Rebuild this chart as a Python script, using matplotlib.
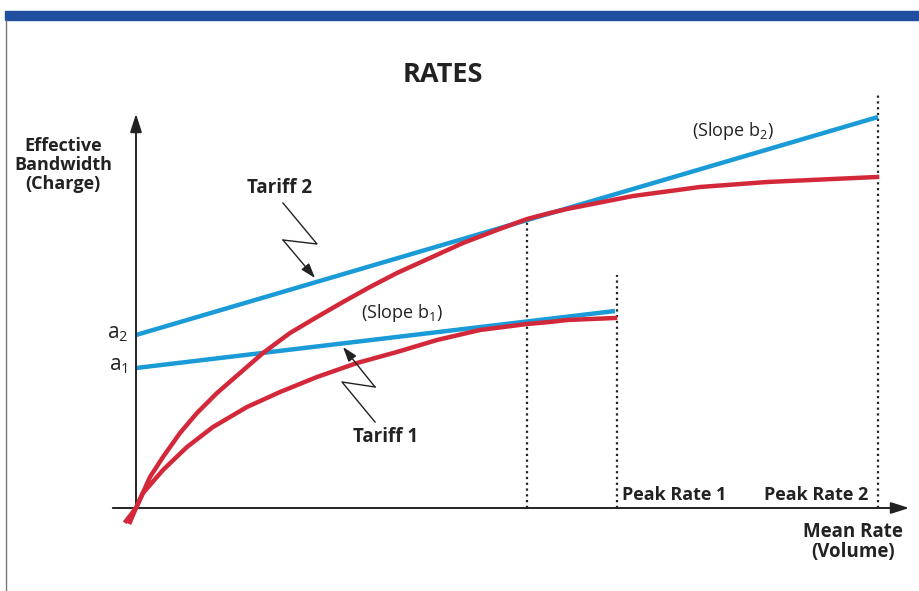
import matplotlib
matplotlib.use("Agg")
import matplotlib.pyplot as plt
from matplotlib.patches import Rectangle
from matplotlib.lines import Line2D

plt.rcParams["font.family"] = ["Open Sans", "DejaVu Sans"]
plt.rcParams["mathtext.fontset"] = "custom"
plt.rcParams["mathtext.rm"] = "Open Sans"

# chart units: x = mean rate, y = effective bandwidth (charge), origin at axis crossing
# linear tariffs (intercept a, slope b)
tariff1_rate = [0, 479]
tariff1_charge = [140, 197]
tariff2_rate = [0, 742]
tariff2_charge = [173, 391]

# effective bandwidth curves
curve1_rate = [-6, 0, 7, 27, 51, 77, 111, 144, 181, 221, 261, 301, 344, 391, 414, 431, 479]
curve1_charge = [-14, 0, 15, 38, 61, 81, 101, 116, 131, 145, 156, 168, 178, 184, 186, 188, 190]
curve2_rate = [-10, 0, 14, 27, 44, 61, 81, 104, 127, 154, 181, 207, 234, 261, 294, 327,
               361, 391, 414, 431, 497, 564, 631, 697, 741]
curve2_charge = [-13, 0, 31, 51, 75, 95, 115, 135, 155, 175, 191, 206, 221, 235, 250, 265,
                 278, 289, 295, 299, 312, 321, 326, 329, 331]

# dotted markers: tangent point, peak rate 1, peak rate 2
marker_rate = [391, 481, 742]
marker_top = [290, 233, 415]
peak_labels = ["Peak Rate 1", "Peak Rate 2"]

BLUE = "#1a9bd7"
RED = "#d3283a"
INK = "#222222"

fig = plt.figure(figsize=(9.2, 5.91), dpi=100)
ax = fig.add_axes([0, 0, 1, 1])
ax.set_xlim(-136, 784)
ax.set_ylim(-83, 508)
ax.axis("off")

# header band and left frame line
fig.patches.append(Rectangle((5 / 920, 1 - 20 / 591), 1, 9 / 591, transform=fig.transFigure,
                             color="#1f4f9e", zorder=0))
fig.lines.append(Line2D([6 / 920, 6 / 920], [0, 1 - 20 / 591], transform=fig.transFigure,
                        color="#777777", lw=1))

# axes with arrows
ax.annotate("", xy=(0, 397), xytext=(0, -2),
            arrowprops=dict(arrowstyle="-|>,head_length=1.1,head_width=0.35", color=INK, lw=1.4))
ax.annotate("", xy=(776, 0), xytext=(-26, 0),
            arrowprops=dict(arrowstyle="-|>,head_length=1.1,head_width=0.35", color=INK, lw=1.4))

# dotted verticals
for r, top in zip(marker_rate, marker_top):
    ax.plot([r, r], [0, top], color=INK, lw=1.6, linestyle=(0, (1, 1.6)), zorder=1)

ax.plot(tariff2_rate, tariff2_charge, color=BLUE, lw=3.2, solid_capstyle="butt", zorder=2)
ax.plot(tariff1_rate, tariff1_charge, color=BLUE, lw=3.2, solid_capstyle="butt", zorder=2)
ax.plot(curve2_rate, curve2_charge, color=RED, lw=3.2, solid_joinstyle="round", zorder=3)
ax.plot(curve1_rate, curve1_charge, color=RED, lw=3.2, solid_joinstyle="round", zorder=3)

# lightning pointers
def bolt(xs, ys):
    ax.plot(xs[:-1], ys[:-1], color=INK, lw=1.0)
    ax.annotate("", xy=(xs[-1], ys[-1]), xytext=(xs[-2], ys[-2]),
                arrowprops=dict(arrowstyle="-|>,head_length=0.9,head_width=0.3",
                                color=INK, lw=1.0, shrinkA=0, shrinkB=0))

bolt([147, 181, 147, 179], [305, 264, 268, 230])
bolt([239, 206, 239, 207], [86, 126, 121, 161])

# text
ax.text(307, 433, "RATES", ha="center", va="center", fontsize=19.5, fontweight="bold", color=INK)
ax.text(-73, 343, "Effective\nBandwidth\n(Charge)", ha="center", va="center",
        fontsize=13, fontweight="bold", color=INK, linespacing=1.05)
ax.text(144, 320, "Tariff 2", ha="center", va="center", fontsize=13.5, fontweight="bold", color=INK)
ax.text(250, 71, "Tariff 1", ha="center", va="center", fontsize=13.5, fontweight="bold", color=INK)
ax.text(597, 377, r"(Slope b$_{\mathregular{2}}$)", ha="center", va="center", fontsize=13, color=INK)
ax.text(266, 195, r"(Slope b$_{\mathregular{1}}$)", ha="center", va="center", fontsize=13, color=INK)
ax.text(-18, 175, r"a$_{\mathregular{2}}$", ha="center", va="center", fontsize=15, color=INK)
ax.text(-18, 143, r"a$_{\mathregular{1}}$", ha="center", va="center", fontsize=15, color=INK)
ax.text(marker_rate[1] + 5, 13, peak_labels[0], ha="left", va="center",
        fontsize=13, fontweight="bold", color=INK)
ax.text(marker_rate[2] - 114, 13, peak_labels[1], ha="left", va="center",
        fontsize=13, fontweight="bold", color=INK)
ax.text(717, -34, "Mean Rate\n(Volume)", ha="center", va="center",
        fontsize=13.5, fontweight="bold", color=INK, linespacing=1.0)

fig.savefig("out.png", dpi=100)
